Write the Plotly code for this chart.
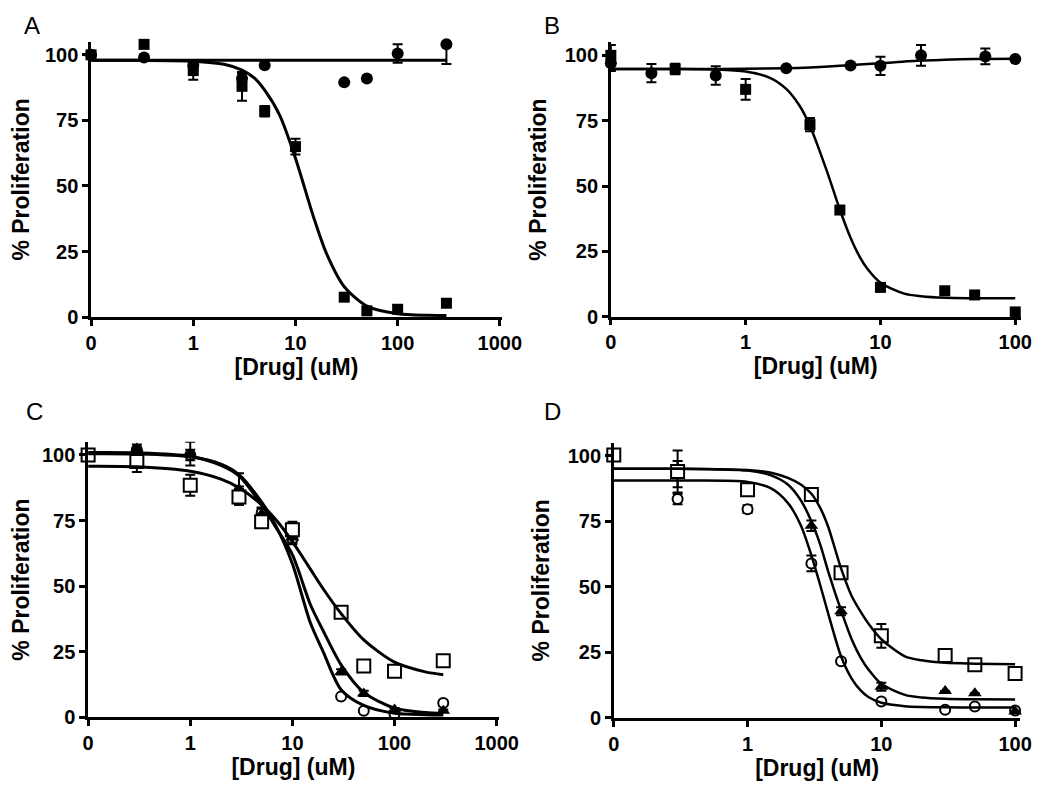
import plotly.graph_objects as go

# ---------------- DATA ----------------
ZERO_POS = 0.1  # where the "0" dose is drawn on the log axis (GraphPad style)

# Panel A
A_circ_x = [0, 0.33, 1, 3, 5, 30, 50, 100, 300]
A_circ_y = [100, 99, 96, 91, 96, 89.5, 91, 100.5, 104]
A_circ_e = [1, 1, 1, 2, 0, 0, 0, 3.5, 7.5]
A_sq_x = [0, 0.33, 1, 3, 5, 10, 30, 50, 100, 300]
A_sq_y = [100, 104, 94, 88, 78.5, 65, 7.6, 2.4, 3, 5.3]
A_sq_e = [1.5, 1, 3.5, 5.5, 2, 3, 1, 1, 1.5, 0]
A_fit_ctrl_x = [0.1, 300]
A_fit_ctrl_y = [97.9, 97.9]
A_fit_drug_x = [0.1, 0.3, 1, 2, 3, 4, 5, 7, 10, 15, 20, 30, 50, 100, 200, 300]
A_fit_drug_y = [97.9, 97.9, 97.6, 96.4, 94.2, 91.0, 86.5, 77.0, 60.6, 38.3, 24.5, 11.6, 4.2, 1.3, 0.7, 0.6]

# Panel B
B_circ_x = [0, 0.2, 0.6, 2, 6, 10, 20, 60, 100]
B_circ_y = [97, 93.2, 92.3, 95.1, 96.1, 96, 100, 99.6, 98.6]
B_circ_e = [3, 3.5, 3.5, 0, 0, 3.5, 4, 3, 0]
B_sq_x = [0, 0.3, 1, 3, 5, 10, 30, 50, 100]
B_sq_y = [100, 94.8, 87, 73.5, 40.8, 11.2, 9.9, 8.3, 1.8]
B_sq_e = [4, 2, 4, 2.5, 1, 1.5, 0.5, 0.5, 0]
B_fit_ctrl_x = [0.1, 0.5, 1, 2, 3, 5, 7, 10, 20, 30, 50, 100]
B_fit_ctrl_y = [94.8, 94.8, 94.9, 95.1, 95.4, 96.0, 96.5, 97.0, 98.0, 98.3, 98.6, 98.7]
B_fit_drug_x = [0.1, 0.3, 0.6, 1, 1.5, 2, 2.5, 3, 4, 5, 6, 7, 8, 10, 15, 20, 30, 50, 100]
B_fit_drug_y = [94.8, 94.8, 94.6, 93.8, 91.5, 87.2, 80.9, 73.0, 55.8, 40.9, 30.2, 23.0, 18.3, 13.0, 8.8, 7.8, 7.2, 7.05, 7.0]

# Panel C
C_x = [0, 0.3, 1, 3, 5, 10, 30, 50, 100, 300]
C_sq_y = [100, 97.5, 88.5, 84, 74.5, 71.5, 40, 19.5, 17.5, 21.5]
C_sq_e = [1, 4, 4, 3, 1, 3, 0, 0, 0, 1]
C_tri_y = [100, 102.5, 100.5, 87, 77.5, 68.5, 17.3, 9.1, 3, 2.5]
C_tri_e = [1, 1.5, 4.5, 6, 2, 2, 1, 1, 0.5, 0.5]
C_circ_y = [100, 102, 100, 85, 78, 68, 7.9, 2.5, 1.2, 5.4]
C_circ_e = [1, 1, 2, 3, 2, 2, 0.5, 0.5, 0.5, 1]
C_fit_x = [0.1, 0.3, 1, 2, 3, 5, 7, 10, 15, 20, 30, 50, 100, 200, 300]
C_fit_sq_y = [95.7, 95.5, 93.8, 90.8, 87.5, 81, 75, 67, 56.5, 49, 39.5, 29.5, 21, 17.3, 16.2]
C_fit_tri_y = [100.9, 100.8, 99.5, 96, 92, 81, 72, 62, 43, 33, 20, 9.5, 3.5, 1.8, 1.4]
C_fit_circ_y = [100.5, 100.4, 99.3, 96.5, 92.5, 82, 72.5, 58.5, 36, 25, 10.5, 4.5, 1.5, 1.0, 0.9]

# Panel D
D_x = [0, 0.3, 1, 3, 5, 10, 30, 50, 100]
D_sq_y = [100.3, 94, 87, 85.2, 55.4, 31.3, 23.8, 20.3, 16.9]
D_sq_e = [1.5, 8, 2, 2, 1.5, 4.5, 0, 0, 0]
D_tri_y = [100, 93, 87, 73.3, 40.7, 11.9, 10.3, 9.4, 2.5]
D_tri_e = [1, 5, 2, 2, 1.5, 1.5, 0, 0, 0]
D_circ_y = [100, 83.5, 79.6, 58.9, 21.6, 6.3, 3.1, 4.4, 2.8]
D_circ_e = [1, 2, 1.5, 3, 1, 0.5, 0, 0.5, 0]
D_fit_x = [0.1, 0.3, 1, 1.5, 2, 2.5, 3, 3.5, 4, 5, 6, 7, 8, 10, 15, 20, 30, 50, 100]
D_fit_sq_y = [95, 95, 94.5, 93.5, 91.5, 89, 85.5, 80, 73, 57, 46.5, 40.5, 36, 30, 23.5, 22, 21, 20.7, 20.5]
D_fit_tri_y = [95, 95, 94.3, 92.5, 89, 83, 75, 66, 56, 41, 30, 23, 18.5, 13, 8.8, 7.8, 7.3, 7.1, 7]
D_fit_circ_y = [90.5, 90.5, 90, 87.5, 82, 73.5, 62, 50.5, 40, 23.5, 15, 10.5, 8, 5.8, 4.5, 4.2, 4.05, 4, 4]

Y_TICKS = [0, 25, 50, 75, 100]
X_TICKS_WIDE = [0, 1, 10, 100, 1000]
X_TICKS_NARROW = [0, 1, 10, 100]
PANEL_LABELS = ["A", "B", "C", "D"]
X_TITLE = "[Drug] (uM)"
Y_TITLE = "% Proliferation"

# ---------------- FIGURE ----------------
FONT = "Liberation Sans, Arial, sans-serif"


def xpos(vals):
    return [ZERO_POS if v == 0 else v for v in vals]


fig = go.Figure()


def add_points(ax, x, y, e, symbol, size, open_=False):
    suffix = "" if ax == 1 else str(ax)
    fig.add_trace(go.Scatter(
        x=xpos(x), y=y, mode="markers",
        xaxis="x" + suffix, yaxis="y" + suffix,
        marker=dict(symbol=symbol, size=size,
                    color="white" if open_ else "black",
                    line=dict(color="black", width=2 if open_ else 0)),
        error_y=dict(type="data", array=e, visible=True, color="black",
                     thickness=2, width=5),
        cliponaxis=False, showlegend=False, hoverinfo="skip"))


def add_curve(ax, x, y, width):
    suffix = "" if ax == 1 else str(ax)
    fig.add_trace(go.Scatter(
        x=x, y=y, mode="lines", xaxis="x" + suffix, yaxis="y" + suffix,
        line=dict(color="black", width=width, shape="spline", smoothing=0.8),
        cliponaxis=False, showlegend=False, hoverinfo="skip"))


# Panel A
add_points(1, A_circ_x, A_circ_y, A_circ_e, "circle", 12)
add_points(1, A_sq_x, A_sq_y, A_sq_e, "square", 11)
add_curve(1, A_fit_ctrl_x, A_fit_ctrl_y, 3)
add_curve(1, A_fit_drug_x, A_fit_drug_y, 3)

# Panel B
add_points(2, B_circ_x, B_circ_y, B_circ_e, "circle", 12)
add_points(2, B_sq_x, B_sq_y, B_sq_e, "square", 11)
add_curve(2, B_fit_ctrl_x, B_fit_ctrl_y, 2.5)
add_curve(2, B_fit_drug_x, B_fit_drug_y, 2.5)

# Panel C
add_points(3, C_x, C_circ_y, C_circ_e, "circle", 10, open_=True)
add_points(3, C_x, C_tri_y, C_tri_e, "triangle-up", 12)
add_points(3, C_x, C_sq_y, C_sq_e, "square", 13, open_=True)
add_curve(3, C_fit_x, C_fit_sq_y, 3)
add_curve(3, C_fit_x, C_fit_tri_y, 3)
add_curve(3, C_fit_x, C_fit_circ_y, 3)

# Panel D
add_points(4, D_x, D_circ_y, D_circ_e, "circle", 10, open_=True)
add_points(4, D_x, D_tri_y, D_tri_e, "triangle-up", 12)
add_points(4, D_x, D_sq_y, D_sq_e, "square", 13, open_=True)
add_curve(4, D_fit_x, D_fit_sq_y, 2.5)
add_curve(4, D_fit_x, D_fit_tri_y, 2.5)
add_curve(4, D_fit_x, D_fit_circ_y, 2.5)

W, H = 1050, 788
# plot-area pixel boxes: (left, right, bottom, top)
boxes = [(79, 500.3, 313.5, 34.2), (612, 1032.2, 313, 34.8),
         (76, 497, 719.3, 440), (615, 1032, 720, 440.7)]
xranges = [[-1, 3.02], [-1, 2.04], [-1, 3.02], [-1, 2.04]]
xticks = [X_TICKS_WIDE, X_TICKS_NARROW, X_TICKS_WIDE, X_TICKS_NARROW]

tickfont = dict(family=FONT, size=20, color="black", weight="bold")
titlefont = dict(family=FONT, size=23, color="black", weight="bold")

layout = dict(width=W, height=H, margin=dict(l=0, r=0, t=0, b=0),
              paper_bgcolor="white", plot_bgcolor="white", showlegend=False)

for i, (l, r, b, t) in enumerate(boxes):
    n = i + 1
    sx = "" if n == 1 else str(n)
    tv = xticks[i]
    layout["xaxis" + sx] = dict(
        type="log", range=xranges[i], domain=[l / W, r / W],
        anchor="y" + sx,
        tickvals=xpos(tv), ticktext=[str(v) for v in tv],
        showline=True, linewidth=2.5, linecolor="black",
        ticks="outside", ticklen=6, tickwidth=2.5, tickcolor="black",
        showgrid=False, zeroline=False, tickfont=tickfont,
        title=dict(text=X_TITLE, font=titlefont, standoff=6))
    layout["yaxis" + sx] = dict(
        range=[0, 105], domain=[(H - b) / H, (H - t) / H],
        anchor="x" + sx,
        tickvals=Y_TICKS, ticktext=[str(v) for v in Y_TICKS],
        showline=True, linewidth=2.5, linecolor="black",
        ticks="outside", ticklen=6, tickwidth=2.5, tickcolor="black",
        showgrid=False, zeroline=False, tickfont=tickfont,
        title=dict(text=Y_TITLE, font=titlefont, standoff=12))

label_pos = [(8, 2), (541, 2), (10, 393), (541, 393)]
layout["annotations"] = [
    dict(text=lab, x=px / W, y=1 - py / H, xref="paper", yref="paper",
         xanchor="left", yanchor="top", showarrow=False,
         font=dict(family=FONT, size=24, color="black"))
    for lab, (px, py) in zip(PANEL_LABELS, label_pos)]

fig.update_layout(**layout)
fig.write_html("out.html")
